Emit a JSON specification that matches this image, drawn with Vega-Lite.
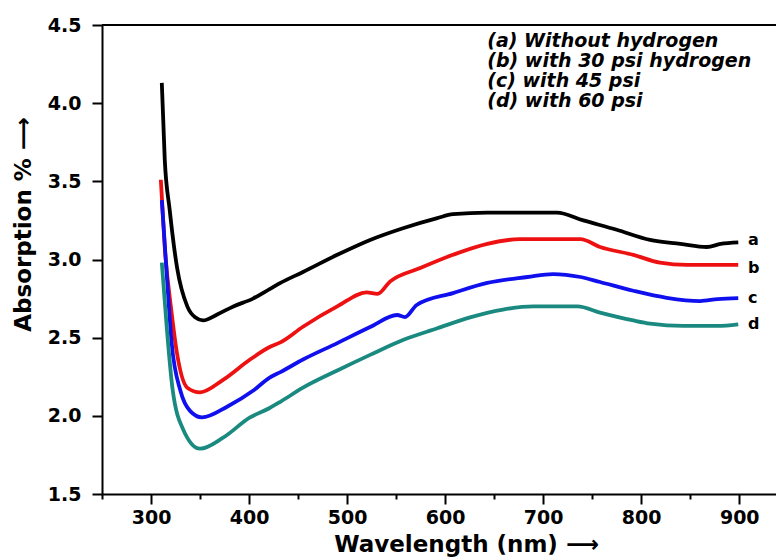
{
  "$schema": "https://vega.github.io/schema/vega-lite/v6.json",
  "autosize": {"type": "none"},
  "padding": {"left": 102, "top": 25, "right": 0, "bottom": 65},
  "width": 674,
  "height": 469,
  "background": "white",
  "config": {
    "view": {"stroke": null},
    "font": "DejaVu Sans",
    "axis": {
      "domainColor": "black", "domainWidth": 2, "tickColor": "black", "tickWidth": 2,
      "labelFont": "DejaVu Sans", "labelFontWeight": "bold", "labelFontSize": 19, "labelColor": "black",
      "titleFont": "DejaVu Sans", "titleFontWeight": "bold", "titleFontSize": 23, "titleColor": "black",
      "grid": false
    }
  },
  "datasets": {
    "curves": [
      {"s": "a", "wl": 311, "abs": 4.13}, {"s": "a", "wl": 314, "abs": 3.64}, {"s": "a", "wl": 319, "abs": 3.32}, {"s": "a", "wl": 326.5, "abs": 2.95}, {"s": "a", "wl": 337, "abs": 2.70}, {"s": "a", "wl": 345, "abs": 2.63}, {"s": "a", "wl": 353, "abs": 2.61}, {"s": "a", "wl": 368, "abs": 2.65}, {"s": "a", "wl": 384, "abs": 2.70}, {"s": "a", "wl": 404, "abs": 2.75}, {"s": "a", "wl": 421, "abs": 2.81}, {"s": "a", "wl": 432, "abs": 2.85}, {"s": "a", "wl": 455, "abs": 2.92}, {"s": "a", "wl": 490, "abs": 3.03}, {"s": "a", "wl": 523.5, "abs": 3.125}, {"s": "a", "wl": 557, "abs": 3.20}, {"s": "a", "wl": 592, "abs": 3.265}, {"s": "a", "wl": 608, "abs": 3.29}, {"s": "a", "wl": 643, "abs": 3.30}, {"s": "a", "wl": 676, "abs": 3.30}, {"s": "a", "wl": 714, "abs": 3.30}, {"s": "a", "wl": 741, "abs": 3.25}, {"s": "a", "wl": 775, "abs": 3.19}, {"s": "a", "wl": 809, "abs": 3.125}, {"s": "a", "wl": 840, "abs": 3.10}, {"s": "a", "wl": 867, "abs": 3.08}, {"s": "a", "wl": 881, "abs": 3.10}, {"s": "a", "wl": 899, "abs": 3.11},
      {"s": "b", "wl": 310, "abs": 3.51}, {"s": "b", "wl": 314, "abs": 3.08}, {"s": "b", "wl": 321, "abs": 2.66}, {"s": "b", "wl": 326.5, "abs": 2.40}, {"s": "b", "wl": 337, "abs": 2.18}, {"s": "b", "wl": 350, "abs": 2.15}, {"s": "b", "wl": 373.5, "abs": 2.23}, {"s": "b", "wl": 401, "abs": 2.36}, {"s": "b", "wl": 421, "abs": 2.44}, {"s": "b", "wl": 432, "abs": 2.47}, {"s": "b", "wl": 455, "abs": 2.57}, {"s": "b", "wl": 490, "abs": 2.70}, {"s": "b", "wl": 520, "abs": 2.79}, {"s": "b", "wl": 531, "abs": 2.78}, {"s": "b", "wl": 544, "abs": 2.86}, {"s": "b", "wl": 574.5, "abs": 2.945}, {"s": "b", "wl": 608, "abs": 3.03}, {"s": "b", "wl": 643, "abs": 3.10}, {"s": "b", "wl": 676, "abs": 3.13}, {"s": "b", "wl": 738, "abs": 3.13}, {"s": "b", "wl": 758, "abs": 3.08}, {"s": "b", "wl": 792, "abs": 3.03}, {"s": "b", "wl": 819, "abs": 2.98}, {"s": "b", "wl": 847, "abs": 2.965}, {"s": "b", "wl": 899, "abs": 2.965},
      {"s": "c", "wl": 311, "abs": 3.38}, {"s": "c", "wl": 316, "abs": 2.91}, {"s": "c", "wl": 321, "abs": 2.47}, {"s": "c", "wl": 330, "abs": 2.16}, {"s": "c", "wl": 340, "abs": 2.03}, {"s": "c", "wl": 352, "abs": 1.99}, {"s": "c", "wl": 378, "abs": 2.06}, {"s": "c", "wl": 404, "abs": 2.16}, {"s": "c", "wl": 421, "abs": 2.245}, {"s": "c", "wl": 432, "abs": 2.28}, {"s": "c", "wl": 455, "abs": 2.36}, {"s": "c", "wl": 490, "abs": 2.465}, {"s": "c", "wl": 523.5, "abs": 2.568}, {"s": "c", "wl": 551, "abs": 2.645}, {"s": "c", "wl": 559, "abs": 2.632}, {"s": "c", "wl": 571, "abs": 2.709}, {"s": "c", "wl": 608, "abs": 2.785}, {"s": "c", "wl": 643, "abs": 2.85}, {"s": "c", "wl": 684, "abs": 2.888}, {"s": "c", "wl": 710, "abs": 2.907}, {"s": "c", "wl": 738, "abs": 2.888}, {"s": "c", "wl": 758, "abs": 2.856}, {"s": "c", "wl": 792, "abs": 2.80}, {"s": "c", "wl": 826, "abs": 2.755}, {"s": "c", "wl": 860, "abs": 2.734}, {"s": "c", "wl": 878, "abs": 2.747}, {"s": "c", "wl": 899, "abs": 2.753},
      {"s": "d", "wl": 311, "abs": 2.98}, {"s": "d", "wl": 316, "abs": 2.57}, {"s": "d", "wl": 322, "abs": 2.17}, {"s": "d", "wl": 333, "abs": 1.91}, {"s": "d", "wl": 350, "abs": 1.79}, {"s": "d", "wl": 373.5, "abs": 1.86}, {"s": "d", "wl": 401, "abs": 1.99}, {"s": "d", "wl": 421, "abs": 2.05}, {"s": "d", "wl": 432, "abs": 2.09}, {"s": "d", "wl": 455, "abs": 2.18}, {"s": "d", "wl": 490, "abs": 2.29}, {"s": "d", "wl": 523.5, "abs": 2.39}, {"s": "d", "wl": 557, "abs": 2.485}, {"s": "d", "wl": 592, "abs": 2.56}, {"s": "d", "wl": 625.5, "abs": 2.63}, {"s": "d", "wl": 659, "abs": 2.68}, {"s": "d", "wl": 690, "abs": 2.70}, {"s": "d", "wl": 735, "abs": 2.70}, {"s": "d", "wl": 758, "abs": 2.66}, {"s": "d", "wl": 792, "abs": 2.61}, {"s": "d", "wl": 809, "abs": 2.59}, {"s": "d", "wl": 843, "abs": 2.575}, {"s": "d", "wl": 878, "abs": 2.575}, {"s": "d", "wl": 899, "abs": 2.585}
    ],
    "notes": [
      {"wl": 643, "abs": 4.398, "text": "(a) Without hydrogen"},
      {"wl": 643, "abs": 4.270, "text": "(b) with 30 psi hydrogen"},
      {"wl": 643, "abs": 4.142, "text": "(c) with 45 psi"},
      {"wl": 643, "abs": 4.014, "text": "(d) with 60 psi"}
    ],
    "tags": [
      {"wl": 909, "abs": 3.124, "s": "a"},
      {"wl": 909, "abs": 2.945, "s": "b"},
      {"wl": 909, "abs": 2.753, "s": "c"},
      {"wl": 909, "abs": 2.587, "s": "d"}
    ],
    "border": [{"v": 4.5}]
  },
  "layer": [
    {
      "data": {"name": "curves"},
      "mark": {"type": "line", "strokeWidth": 3.8, "interpolate": "monotone"},
      "encoding": {
        "x": {"field": "wl", "type": "quantitative",
              "scale": {"domain": [250, 937.5], "nice": false, "zero": false},
              "axis": {
                "title": "Wavelength (nm)  ⟶",
                "values": [250, 300, 350, 400, 450, 500, 550, 600, 650, 700, 750, 800, 850, 900],
                "labelExpr": "datum.value % 100 == 0 ? datum.value : ''",
                "tickSize": {"condition": {"test": "datum.value % 100 == 0", "value": 10}, "value": 5},
                "labelPadding": 4,
                "titleX": 364, "titleY": 50, "titleBaseline": "middle", "titleAlign": "center"
              }},
        "y": {"field": "abs", "type": "quantitative",
              "scale": {"domain": [1.5, 4.5], "nice": false, "zero": false},
              "axis": {
                "title": "Absorption %  ⟶",
                "values": [1.5, 1.75, 2, 2.25, 2.5, 2.75, 3, 3.25, 3.5, 3.75, 4, 4.25, 4.5],
                "labelExpr": "(datum.value * 4) % 2 == 0 ? format(datum.value, '.1f') : ''",
                "tickSize": 10,
                "labelPadding": 11,
                "titleX": -79, "titleY": 199, "titleBaseline": "middle", "titleAlign": "center", "titleAngle": -90
              }},
        "color": {"field": "s", "type": "nominal", "legend": null,
                  "scale": {"domain": ["a", "b", "c", "d"], "range": ["#000000", "#ee1111", "#1010ee", "#1a8a80"]}}
      }
    },
    {
      "data": {"name": "border"},
      "mark": {"type": "rule", "color": "black", "strokeWidth": 2},
      "encoding": {"y": {"field": "v", "type": "quantitative"}}
    },
    {
      "data": {"name": "notes"},
      "mark": {"type": "text", "align": "left", "baseline": "middle", "font": "DejaVu Sans", "fontWeight": "bold", "fontStyle": "italic", "fontSize": 19, "color": "black"},
      "encoding": {
        "x": {"field": "wl", "type": "quantitative"},
        "y": {"field": "abs", "type": "quantitative"},
        "text": {"field": "text"}
      }
    },
    {
      "data": {"name": "tags"},
      "mark": {"type": "text", "align": "left", "baseline": "middle", "font": "DejaVu Sans", "fontWeight": "bold", "fontSize": 16, "color": "black"},
      "encoding": {
        "x": {"field": "wl", "type": "quantitative"},
        "y": {"field": "abs", "type": "quantitative"},
        "text": {"field": "s"}
      }
    }
  ]
}
